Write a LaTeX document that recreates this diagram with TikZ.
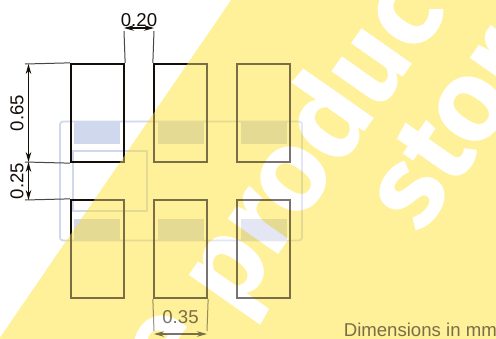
\documentclass[tikz,border=0pt]{standalone}
\usepackage{fontspec}
\setmainfont{Liberation Sans}
\newfontfamily\markfont{Fira Sans}
\usetikzlibrary{positioning, arrows.meta}
\definecolor{inkblack}{RGB}{20,14,10}
\definecolor{inkgray}{RGB}{70,70,70}
\definecolor{padblue}{RGB}{208,216,238}
\definecolor{bandyellow}{RGB}{255,240,154}
\definecolor{bandinverse}{RGB}{0,15,101}
\tikzset{
	pad/.style={draw=inkblack, line width=2.3pt, minimum width=53pt, minimum height=98pt, inner sep=0pt},
	patch/.style={fill=padblue, minimum width=46pt, minimum height=22pt, inner sep=0pt},
	frame/.style={draw=padblue, line width=1.8pt},
	extline/.style={draw=inkgray, line width=1pt},
	dimline/.style={<->, draw=inkblack, line width=1.1pt},
	dimtext/.style={font=\fontsize{18.6}{18.6}\selectfont, text=inkblack, inner sep=0pt},
	marktext/.style={font=\markfont\bfseries\fontsize{116}{116}\selectfont, text=bandinverse, rotate=55, inner sep=0pt},
	band/.style={insert path={(232.5,-2) -- (500,-2) -- (500,342) -- (-3,342) -- cycle}}
}
\begin{document}
\begin{tikzpicture}[x=1pt, y=-1pt, >={Stealth[length=10pt, width=5.5pt]}]

	\useasboundingbox (0,0) rectangle (496,338);
	\fill [white] (-6,-6) rectangle (502,344);

	% Land pattern
	\node [frame, rounded corners=3pt, minimum width=242pt, minimum height=119pt, inner sep=0pt] (outline) at (181,181) {};
	\node [frame, minimum width=74pt, minimum height=60pt, inner sep=0pt] (inner) at (110,181) {};
	\foreach \name/\px in {1/97, 2/181, 3/264} {
		\node [patch] (top-\name) at (\px,132.5) {};
		\node [patch] (bot-\name) at (\px,230) {};
	}
	\foreach \name/\px in {1/97.5, 2/180.5, 3/263.5} {
		\node [pad] (a-\name) at (\px,113) {};
		\node [pad] (b-\name) at (\px,249) {};
	}

	% Dimensions
	\coordinate (w-l) at (124,31);
	\coordinate (w-r) at (154,31);
	\draw [extline] (w-l) -- (a-1.north east);
	\draw [extline] (w-r) -- (a-2.north west);
	\draw [dimline] ([yshift=3pt]w-l) -- ([yshift=3pt]w-r);
	\node [dimtext] (w-text) at (139,20.5) {0.20};

	\coordinate (h-a) at (25,64);
	\coordinate (h-b) at (25,162);
	\coordinate (h-c) at (25,200);
	\draw [extline] (h-a) -- (a-1.north west);
	\draw [extline] (h-b) -- (a-1.south west);
	\draw [extline] (h-c) -- (b-1.north west);
	\draw [dimline] ([xshift=3.5pt]h-a) -- ([xshift=3.5pt]h-b);
	\draw [dimline] ([xshift=3.5pt]h-b) -- ([xshift=3.5pt]h-c);
	\node [dimtext, rotate=90] (h-text-1) at (17,113) {0.65};
	\node [dimtext, rotate=90] (h-text-2) at (17,181) {0.25};

	\coordinate (p-l) at (154,331);
	\coordinate (p-r) at (207,331);
	\draw [extline] (b-2.south west) -- (p-l);
	\draw [extline] (b-2.south east) -- (p-r);
	\draw [dimline] ([yshift=-3pt]p-l) -- ([yshift=-3pt]p-r);
	\node [dimtext] (p-text) at (180.5,317) {0.35};

	\node [dimtext, anchor=base east] (unit) at (497,336) {Dimensions in mm};

	% Band over the drawing
	\fill [white, opacity=0.43, band];
	\fill [bandyellow, blend mode=multiply, band];
	\begin{scope}[blend mode=color dodge]
		\clip [band];
		\node [marktext, anchor=base west] (mark-0) at (173,392) {e};
		\node [marktext, anchor=base west] (mark-1) at (235,317) {product};
		\node [marktext, anchor=base west] (mark-2) at (421,236) {store};
	\end{scope}

\end{tikzpicture}
\end{document}
